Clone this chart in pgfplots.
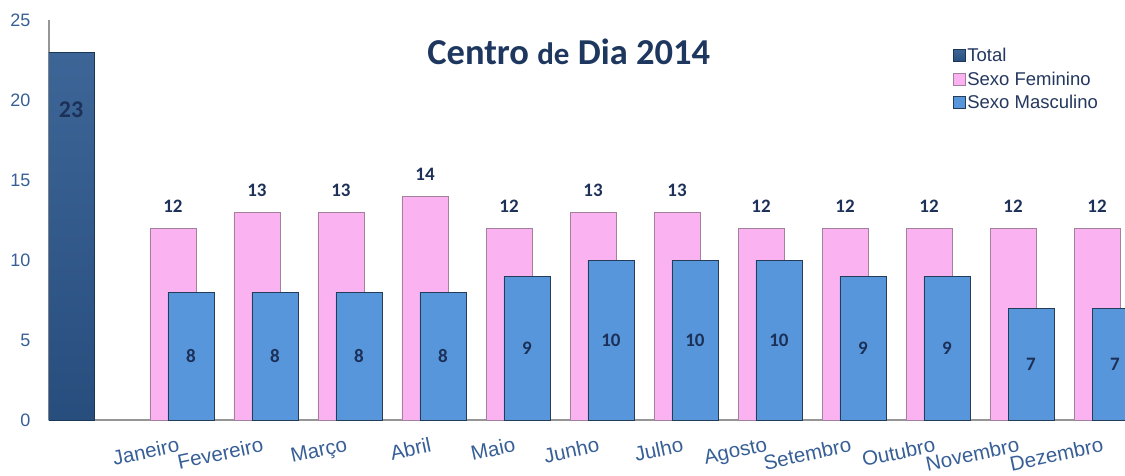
\documentclass[border=0pt]{standalone}
\usepackage{fontspec}
\setmainfont{Liberation Sans}
\newfontfamily\calib{Carlito}
\usepackage{pgfplots}
\pgfplotsset{compat=1.18}
\definecolor{tickblue}{RGB}{55,95,150}
\definecolor{navy}{RGB}{28,48,88}
\definecolor{titlenavy}{RGB}{30,55,95}
\definecolor{legtext}{RGB}{35,55,95}
\definecolor{totalc}{RGB}{44,88,142}
\definecolor{pinkc}{RGB}{250,178,240}
\definecolor{bluec}{RGB}{88,150,220}
\definecolor{axisgray}{RGB}{150,150,150}
\begin{document}
\begin{tikzpicture}
\begin{axis}[
  at={(0pt,0pt)}, anchor=south west,
  scale only axis, width=1076pt, height=400pt,
  xmin=-0.476, xmax=12.333, ymin=0, ymax=25,
  axis x line*=bottom, axis y line*=left,
  axis line style={axisgray, line width=1.6pt, -},
  ytick={0,5,10,15,20,25},
  xtick={1,...,12},
  xticklabels={Janeiro,Fevereiro,Março,Abril,Maio,Junho,Julho,Agosto,Setembro,Outubro,Novembro,Dezembro},
  major tick length=0pt,
  tick style={draw=none},
  yticklabel style={font=\fontsize{18}{20}\selectfont, text=tickblue, xshift=-15pt},
  xticklabel style={font=\fontsize{20.5}{22}\selectfont, text=tickblue, rotate=12, anchor=north east, yshift=-14pt, xshift=4pt},
  /pgf/number format/assume math mode=true,
  ybar, bar shift=0pt, bar width=46pt,
  clip=true,
  legend style={at={(0.837,0.94)}, anchor=north west, draw=none, fill=none,
    font=\fontsize{18.5}{20}\selectfont, text=legtext, row sep=4.5pt,
    /tikz/every even column/.append style={column sep=2pt}},
  legend image code/.code={\draw[#1, line width=0.5pt] (0pt,-6pt) rectangle (12pt,6pt);},
  legend cell align=left,
]
\addplot[draw=totalc!60!black, line width=0.8pt, top color=totalc!92!white, bottom color=totalc!88!black,
  nodes near coords, every node near coord/.append style={font=\calib\bfseries\fontsize{24}{26}\selectfont, text=navy, anchor=center, yshift=-58pt}]
  coordinates {(-0.214,23)};
\addlegendentry{Total}
\addplot[draw=pinkc!55!black!80, line width=0.7pt, fill=pinkc,
  nodes near coords, every node near coord/.append style={font=\calib\bfseries\fontsize{19}{21}\selectfont, text=navy, anchor=center, yshift=22pt}]
  coordinates {(1,12) (2,13) (3,13) (4,14) (5,12) (6,13) (7,13) (8,12) (9,12) (10,12) (11,12) (12,12)};
\addlegendentry{Sexo Feminino}
\addplot[draw=bluec!40!black, line width=0.7pt, fill=bluec,
  visualization depends on={rawy \as \rawy},
  nodes near coords, every node near coord/.append style={font=\calib\bfseries\fontsize{19}{21}\selectfont, text=navy, anchor=center, yshift={-8*\rawy}}]
  coordinates {(1.214,8) (2.214,8) (3.214,8) (4.214,8) (5.214,9) (6.214,10) (7.214,10) (8.214,10) (9.214,9) (10.214,9) (11.214,7) (12.214,7)};
\addlegendentry{Sexo Masculino}
\node[font=\calib\bfseries\fontsize{36.5}{38}\selectfont, text=titlenavy] at (rel axis cs:0.483,0.92) {Centro {\fontsize{31}{32}\selectfont de} Dia 2014};
\end{axis}
\pgfresetboundingbox
\path (-49pt,-55pt) rectangle (1076pt,420pt);
\end{tikzpicture}
\end{document}
